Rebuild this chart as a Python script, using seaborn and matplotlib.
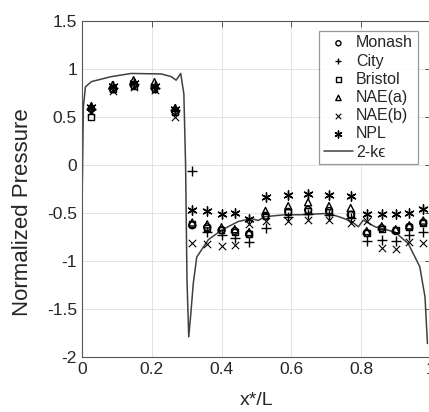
import numpy as np
import pandas as pd
import matplotlib
matplotlib.use("Agg")
import matplotlib.pyplot as plt
import seaborn as sns

# ---- data ----
x_pos = [0.027, 0.088, 0.148, 0.208, 0.267, 0.316, 0.359, 0.400, 0.438, 0.479,
         0.526, 0.591, 0.648, 0.708, 0.770, 0.816, 0.859, 0.899, 0.938, 0.978]

monash = [0.58, 0.79, 0.83, 0.80, 0.56, -0.63, -0.65, -0.68, -0.69, -0.72,
          -0.53, -0.49, -0.47, -0.48, -0.52, -0.71, -0.66, -0.69, -0.645, -0.60]
city = [0.58, 0.80, 0.84, 0.80, 0.57, -0.07, -0.70, -0.73, -0.76, -0.80,
        -0.66, -0.54, -0.51, -0.52, -0.55, -0.79, -0.78, -0.79, -0.73, -0.70]
bristol = [0.50, 0.79, 0.82, 0.79, 0.55, -0.62, -0.66, -0.68, -0.70, -0.72,
           -0.53, -0.49, -0.48, -0.49, -0.51, -0.71, -0.67, -0.68, -0.65, -0.61]
nae_a = [0.61, 0.83, 0.88, 0.86, 0.59, -0.60, -0.62, -0.65, -0.67, -0.70,
         -0.48, -0.43, -0.39, -0.43, -0.45, -0.69, -0.64, -0.67, -0.63, -0.58]
nae_b = [0.55, 0.77, 0.81, 0.78, 0.50, -0.81, -0.82, -0.85, -0.83, -0.62,
         -0.58, -0.58, -0.57, -0.57, -0.61, -0.59, -0.87, -0.88, -0.80, -0.81]
npl = [0.60, 0.82, 0.85, 0.82, 0.58, -0.47, -0.48, -0.51, -0.50, -0.56,
       -0.34, -0.315, -0.30, -0.315, -0.33, -0.51, -0.51, -0.51, -0.50, -0.465]

ke_x = [0.0, 0.004, 0.010, 0.027, 0.084, 0.141, 0.227, 0.256, 0.270, 0.283,
        0.292, 0.297, 0.301, 0.306, 0.312, 0.319, 0.329, 0.362, 0.400, 0.448,
        0.486, 0.505, 0.524, 0.582, 0.625, 0.706, 0.744, 0.773, 0.792, 0.806,
        0.840, 0.897, 0.935, 0.968, 0.983, 0.990]
ke_y = [-0.50, 0.60, 0.81, 0.865, 0.917, 0.95, 0.945, 0.917, 0.88, 0.95,
        0.74, 0.00, -1.20, -1.79, -1.55, -1.235, -0.96, -0.78, -0.68, -0.59,
        -0.56, -0.58, -0.54, -0.52, -0.52, -0.506, -0.55, -0.59, -0.645, -0.576,
        -0.645, -0.70, -0.82, -1.06, -1.375, -1.86]

series_names = ["Monash", "City", "Bristol", "NAE(a)", "NAE(b)", "NPL"]
series_vals = [monash, city, bristol, nae_a, nae_b, npl]
x_ticks = [0, 0.2, 0.4, 0.6, 0.8, 1]
y_ticks = [-2, -1.5, -1, -0.5, 0, 0.5, 1, 1.5]

# ---- style ----
sns.set_style("white")
plt.rcParams["font.family"] = ["Liberation Sans", "DejaVu Sans"]

fig = plt.figure(figsize=(4.29, 4.12), dpi=100)
ax = fig.add_axes([0.191, 0.1335, 0.8135, 0.8165])

markers = {
    "Monash": dict(marker="o", s=24, facecolor="none", edgecolor="black", linewidths=1.0),
    "City": dict(marker="+", s=44, linewidths=1.0),
    "Bristol": dict(marker="s", s=18, facecolor="none", edgecolor="black", linewidths=1.0),
    "NAE(a)": dict(marker="^", s=26, facecolor="none", edgecolor="black", linewidths=1.0),
    "NAE(b)": dict(marker="x", s=28, linewidths=0.8),
    "NPL": dict(marker=(6, 2, 0), s=44, linewidths=1.0),
}

for name, vals in zip(series_names, series_vals):
    df = pd.DataFrame({"x": x_pos, "y": vals})
    sns.scatterplot(data=df, x="x", y="y", ax=ax, color="black", label=name,
                    zorder=3, **markers[name])

df_ke = pd.DataFrame({"x": ke_x, "y": ke_y})
sns.lineplot(data=df_ke, x="x", y="y", ax=ax, sort=False, estimator=None,
             color="#404040", lw=1.1, label="2-k\u03f5", zorder=2)

ax.set_xlim(0, 1)
ax.set_ylim(-2, 1.5)
ax.set_xticks(x_ticks)
ax.set_xticklabels(["0", "0.2", "0.4", "0.6", "0.8", "1"])
ax.set_yticks(y_ticks)
ax.set_yticklabels(["-2", "-1.5", "-1", "-0.5", "0", "0.5", "1", "1.5"])
ax.grid(True, color="#e3e3e3", lw=0.7)
ax.set_axisbelow(True)
for sp in ax.spines.values():
    sp.set_color("#555555")
    sp.set_linewidth(0.8)
ax.tick_params(direction="in", length=4, width=0.7, colors="#555555",
               labelcolor="#262626", labelsize=12.5, top=True, right=True)

ax.set_xlabel("x*/L", fontsize=14, color="#262626")
ax.set_ylabel("Normalized Pressure", fontsize=16, color="#262626")
ax.xaxis.set_label_coords(0.5, -0.105)
ax.yaxis.set_label_coords(-0.14, 0.43)

h, l = ax.get_legend_handles_labels()
order = series_names + ["2-k\u03f5"]
hd = dict(zip(l, h))
leg = ax.legend([hd[k] for k in order], order, loc="upper right",
                bbox_to_anchor=(0.962, 0.970), borderaxespad=0, fontsize=11.5,
                fancybox=False, frameon=True, edgecolor="#808080",
                handlelength=1.8, handletextpad=0.2, labelspacing=0.2,
                borderpad=0.3, markerscale=0.75)
leg.get_frame().set_linewidth(0.9)
for t in leg.get_texts():
    t.set_color("#262626")

fig.savefig("out.png", dpi=100)
